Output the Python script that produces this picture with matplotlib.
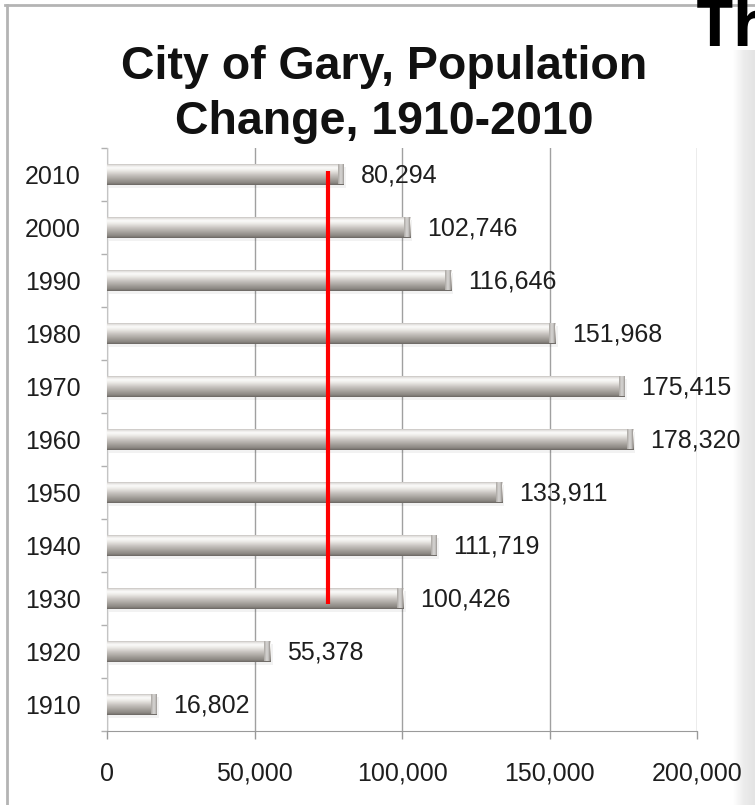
import numpy as np
import matplotlib
matplotlib.use('Agg')
import matplotlib.pyplot as plt
from matplotlib.colors import LinearSegmentedColormap
from matplotlib.lines import Line2D

# data
years = [1910, 1920, 1930, 1940, 1950, 1960, 1970, 1980, 1990, 2000, 2010]
population = [16802, 55378, 100426, 111719, 133911, 178320, 175415, 151968, 116646, 102746, 80294]
value_labels = ['16,802', '55,378', '100,426', '111,719', '133,911', '178,320',
                '175,415', '151,968', '116,646', '102,746', '80,294']
xticks = [0, 50000, 100000, 150000, 200000]
xtick_labels = ['0', '50,000', '100,000', '150,000', '200,000']
red_x = 75000
red_from, red_to = 1930, 2010

plt.rcParams['font.family'] = ['Liberation Sans', 'DejaVu Sans']

W, H = 755, 805
fig = plt.figure(figsize=(W / 100, H / 100), dpi=100)
fig.patch.set_facecolor('white')

# light gray strip on the right edge of the slide (behind everything)
side = fig.add_axes([733 / W, 0, 22 / W, 1 - 50 / H])
side.imshow(np.linspace(0, 1, 32).reshape(1, -1) * np.ones((8, 1)),
            cmap=LinearSegmentedColormap.from_list('side', ['#ffffff', '#ececec', '#e4e4e4']),
            aspect='auto', interpolation='bicubic')
side.axis('off')
side.set_zorder(-5)

ax = fig.add_axes([107 / W, 1 - 731 / H, 590 / W, 583 / H])
ypos = np.arange(len(years))
bar_h = 0.4

# cylinder look: vertical gradient (top of image -> bottom)
cyl = LinearSegmentedColormap.from_list('cyl', [
    (0.0, '#a19d99'), (0.07, '#dcdad7'), (0.2, '#fcfcfb'), (0.32, '#efedea'),
    (0.55, '#c6c2be'), (0.8, '#9c9893'), (0.93, '#87837e'), (1.0, '#67635f')])
capmap = LinearSegmentedColormap.from_list('cap', [
    (0.0, '#a9a5a1'), (0.45, '#d9d7d5'), (0.85, '#bdbab7'), (1.0, '#8c8884')])
grad_v = np.linspace(0, 1, 64).reshape(-1, 1)
grad_h = np.linspace(0, 1, 32).reshape(1, -1)
cap_w = 2000

# shadows
ax.barh(ypos - 0.05, population, height=bar_h, left=800, color='#000000', alpha=0.05, zorder=2)
bars = ax.barh(ypos, population, height=bar_h, color='#b5b1ad', zorder=3)
for b, y, v in zip(bars, ypos, population):
    im = ax.imshow(grad_v, cmap=cyl, aspect='auto', extent=(0, v, y - bar_h / 2, y + bar_h / 2),
                   interpolation='bicubic', zorder=3.5)
    im.set_clip_path(b)
    ax.imshow(grad_h * np.ones((16, 1)), cmap=capmap, aspect='auto',
              extent=(v - cap_w, v, y - bar_h / 2 + 0.02, y + bar_h / 2 - 0.02),
              interpolation='bicubic', zorder=3.6)

for y, v, s in zip(ypos, population, value_labels):
    ax.annotate(s, (v, y), xytext=(12, -1), textcoords='offset points', va='center', ha='left',
                fontsize=18, color='#1e1e1e', zorder=5, annotation_clip=False)

# red reference line
ax.plot([red_x, red_x], [years.index(red_from) - 0.1, years.index(red_to) + 0.06],
        color='#ff0000', lw=3, solid_capstyle='butt', zorder=6)

ax.set_xlim(0, 200000)
ax.set_ylim(-0.5, len(years) - 0.5)
ax.set_xticks(xticks)
ax.set_xticklabels(xtick_labels, fontsize=18, color='#1e1e1e')
ax.set_yticks(ypos)
ax.set_yticklabels([str(y) for y in years], fontsize=18, color='#1e1e1e')
ax.set_yticks(np.arange(-0.5, len(years), 1), minor=True)
ax.tick_params(axis='y', which='major', length=0, pad=19)
ax.tick_params(axis='y', which='minor', length=4, color='#b0b0b0', width=1)
ax.tick_params(axis='x', which='major', length=6, color='#9a9a9a', width=1, pad=16)
ax.xaxis.grid(True, color='#a0a0a0', lw=1)
ax.set_axisbelow(True)
for s in ['top', 'right']:
    ax.spines[s].set_visible(False)
ax.spines['left'].set_color('#c4c4c4')
ax.spines['bottom'].set_color('#9a9a9a')

# title
fig.text(384 / W, 1 - 79 / H, 'City of Gary, Population', ha='center', va='baseline',
         fontsize=33.5, fontweight='bold', color='#111111')
fig.text(384 / W, 1 - 134 / H, 'Change, 1910-2010', ha='center', va='baseline',
         fontsize=33.5, fontweight='bold', color='#111111')

# slide frame and the cut-off slide heading
fig.add_artist(Line2D([5 / W, 1], [1 - 5 / H, 1 - 5 / H], color='#b4b4b4', lw=2))
fig.add_artist(Line2D([7 / W, 7 / W], [0, 1 - 5 / H], color='#b4b4b4', lw=2))
fig.text(696 / W, 1 - 46 / H, 'Th', ha='left', va='baseline', fontsize=47, fontweight='bold',
         family=['Open Sans', 'DejaVu Sans'], color='black')

fig.savefig('out.png', dpi=100)
